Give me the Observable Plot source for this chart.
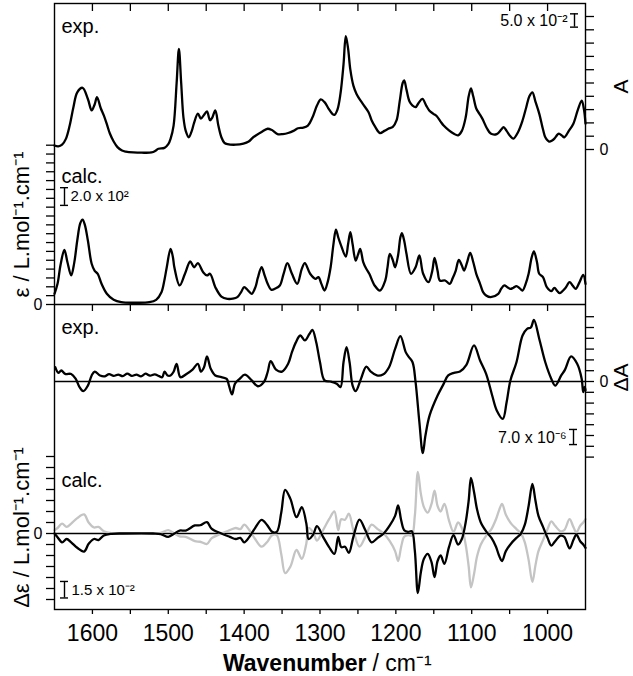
<!DOCTYPE html>
<html><head><meta charset="utf-8">
<script src="https://cdn.jsdelivr.net/npm/d3@7"></script>
<script src="https://cdn.jsdelivr.net/npm/@observablehq/plot@0.6"></script>
<style>
body{margin:0;background:#fff;}
</style></head><body><div id="chart"></div>
<script>
// ---------- DATA ----------
// Experimental IR absorbance (A)
const irExpWn = [1650,1645,1640,1635,1630,1625,1620,1613,1606,1601,1597,1594,1589,1585,1581,1577,1572,1567,1561,1556,1546,1535,1522,1517,1513,1505,1500,1497,1493,1489,1486,1483,1480,1477,1473,1469,1466,1461,1457,1453,1449,1445,1442,1438,1434,1430,1426,1422,1411,1401,1394,1388,1377,1369,1364,1356,1349,1342,1335,1329,1322,1316,1310,1304,1299,1294,1289,1284,1281,1277,1273,1269,1266,1263,1260,1256,1252,1244,1236,1232,1227,1221,1215,1210,1204,1199,1195,1191,1189,1186,1182,1178,1174,1170,1165,1160,1156,1151,1146,1141,1137,1130,1124,1118,1113,1108,1104,1101,1098,1094,1090,1086,1080,1075,1067,1061,1058,1054,1049,1045,1039,1033,1028,1024,1020,1016,1011,1006,1003,998,994,991,987,985,981,978,972,966,960,955,952,950];
const irExpA = [0.015,0.012,0.018,0.04,0.09,0.16,0.215,0.232,0.19,0.147,0.17,0.197,0.155,0.128,0.095,0.06,0.03,0.009,-0.004,-0.008,-0.011,-0.012,-0.011,-0.005,0.003,0.006,0.02,0.04,0.09,0.25,0.378,0.25,0.12,0.07,0.046,0.07,0.1,0.135,0.116,0.13,0.143,0.11,0.12,0.147,0.09,0.046,0.025,0.02,0.018,0.022,0.03,0.046,0.066,0.078,0.074,0.058,0.058,0.062,0.07,0.08,0.082,0.09,0.12,0.165,0.188,0.178,0.155,0.135,0.13,0.15,0.21,0.32,0.426,0.38,0.3,0.24,0.21,0.173,0.14,0.11,0.084,0.062,0.07,0.078,0.085,0.11,0.18,0.25,0.26,0.225,0.18,0.165,0.159,0.175,0.19,0.165,0.147,0.135,0.125,0.105,0.09,0.072,0.06,0.053,0.07,0.12,0.2,0.23,0.2,0.154,0.135,0.116,0.08,0.06,0.058,0.075,0.084,0.07,0.05,0.041,0.065,0.109,0.16,0.2,0.215,0.18,0.135,0.075,0.046,0.03,0.034,0.041,0.056,0.06,0.052,0.046,0.07,0.097,0.15,0.184,0.15,0.097];

// Calculated IR (epsilon, L/mol/cm)
const irCalcWn = [1650,1646,1642,1637,1633,1628,1624,1620,1616,1613,1610,1606,1601,1597,1593,1588,1581,1572,1562,1545,1525,1516,1509,1505,1502,1497,1494,1492,1485,1478,1471,1466,1461,1454,1449,1445,1438,1430,1422,1415,1409,1404,1400,1395,1390,1385,1382,1377,1373,1369,1364,1359,1353,1348,1343,1337,1330,1324,1320,1313,1306,1302,1298,1294,1290,1286,1282,1279,1276,1273,1266,1263,1260,1257,1253,1250,1247,1243,1239,1235,1228,1221,1214,1211,1208,1204,1201,1197,1194,1192,1189,1186,1180,1174,1169,1164,1157,1152,1149,1145,1142,1135,1129,1125,1121,1117,1113,1110,1106,1102,1098,1094,1089,1085,1081,1075,1065,1061,1057,1053,1049,1045,1041,1037,1033,1029,1025,1021,1018,1014,1011,1006,1001,995,991,987,984,977,971,967,963,958,953,950];
const irCalcEps = [121,234,450,618,480,328,470,723,920,960,900,723,460,380,347,234,121,53,26,20,26,53,139,280,421,629,540,421,215,347,486,421,467,365,328,347,196,90,64,66,83,140,196,160,121,200,300,421,330,234,166,180,215,347,467,347,234,403,467,347,290,309,230,158,250,421,700,847,760,686,542,680,817,680,497,560,629,480,403,347,215,158,271,420,573,500,421,560,760,806,720,573,347,421,554,347,252,380,527,380,271,271,234,300,384,505,440,384,480,584,480,347,234,140,102,83,121,180,215,195,177,190,207,185,158,230,347,530,599,480,347,309,196,151,188,150,128,180,252,215,177,250,335,234];

// Experimental VCD (Delta A, in units of 1e-6)
const vcdExpWn = [1649,1645,1641,1636,1628,1622,1617,1612,1606,1601,1597,1590,1584,1578,1572,1566,1560,1554,1548,1542,1536,1530,1524,1518,1512,1508,1505,1501,1497,1493,1489,1484,1476,1468,1461,1457,1453,1449,1444,1438,1430,1423,1420,1416,1412,1406,1399,1390,1382,1374,1369,1365,1358,1350,1342,1337,1332,1326,1320,1314,1310,1305,1300,1294,1286,1278,1273,1269,1265,1261,1257,1253,1246,1239,1233,1225,1217,1209,1201,1194,1187,1183,1178,1174,1169,1164.5,1161,1155.5,1145,1137,1131,1123.5,1115.5,1107,1097,1089,1081,1073,1067,1059,1054,1049,1041,1033,1027,1022,1018,1011,1003,995,990,982,977,969,961,955,953,951,950];
const vcdExpDA = [6.6,4.0,5.1,3.5,3.5,1.2,-2.6,-4.5,-1.9,2.8,4.6,2.8,2.4,3.4,2.6,3.2,2.5,3.6,2.6,3.2,2.4,3.6,2.7,3.3,2.5,2.0,4.6,2.8,2.8,4.5,8.2,2.0,3.5,5.5,8.2,4.6,6.5,11.6,5.9,2.8,2.0,1.2,-1.9,-6.0,-1.0,1.2,3.2,0.5,-2.2,-0.3,4.4,9.4,5.5,4.6,8.2,13.6,18,21.3,19,22,23.9,18.2,8.9,0.5,0,-1,-2.6,8.9,15.9,8.9,-1.9,-4.5,1.2,6.9,4.6,2.8,3.2,6.6,15.1,21,13.6,11.4,8.9,-0.3,-18.8,-33.2,-25,-15.7,-6.5,-1.1,2.8,4.0,4.6,7.7,16.7,9.7,3.5,-6.5,-13.4,-17.3,-9.6,0.5,8.9,21.3,24.4,25,28.5,19.8,8.9,1.2,-1.9,2.8,5.5,11.6,8.2,1.2,-4.9,-2.5,-4];

// Calculated VCD (Delta epsilon, in units of 1e-2), two enantiomers
const vcdCalcWn = [1650,1646,1640,1634,1628,1620,1611,1605,1598,1592,1585,1575,1560,1520,1510,1500,1492,1485,1477,1465,1458,1449,1443,1430,1419,1411,1405,1400,1393,1386,1377,1370,1363,1357,1351,1346,1339,1331,1324,1318,1315,1309,1304,1296,1288,1281,1276,1272,1267,1262,1256,1248,1240,1232,1224,1216,1208,1201,1197,1193,1189,1184,1179,1175,1171,1167,1163,1158,1153,1149,1145,1141,1136,1130,1124,1118,1113,1108,1104,1101,1097,1093,1088,1080,1074,1068,1064,1060,1055,1048,1041,1035,1030,1025,1020,1016,1012,1006,1000,995,990,983,978,971,966,962,957,953,950];
const vcdCalcBlack = [0,-0.33,-0.8,-0.5,-0.8,-1.3,-1.64,-0.94,-0.5,-0.6,-0.18,-0.03,0,0,-0.05,-0.3,0,0.27,0.27,0.73,0.75,1.03,0.45,0,-0.3,-0.5,-0.4,-0.8,-0.3,0.45,1.24,0.8,0.15,0.15,1.94,3.97,3.15,1.48,2.39,0.9,-0.5,-0.1,0.67,-0.3,-1.24,-1.85,-0.3,-1.24,-1.2,-1.76,-0.3,1.27,0.27,-0.8,-0.4,0,0.73,1.6,2.55,1.2,0.3,0.15,0.2,-1.55,-5.42,-3.5,-2.3,-1.85,-2.6,-3.97,-2.5,-2.0,-2.76,-1.24,-0.15,-1.0,-0.5,1.0,3.0,5.06,3.8,2.2,1.0,0.1,-0.4,-1.2,-2.0,-2.5,-1.6,-0.9,-0.4,0,0.8,2.5,4.5,3.0,1.6,0.6,-0.4,-1.1,-0.7,-0.2,-0.3,-1.35,-0.6,-0.1,-0.7,-1.0,-1.3];
const vcdCalcGray = [0.3,0.5,0.9,0.6,0.9,1.4,1.73,1.0,0.55,0.6,0.2,0.03,0,0,0.05,0.3,0,-0.27,-0.3,-0.7,-0.75,-0.95,-0.45,0,0.3,0.5,0.4,0.8,0.3,-0.45,-1.2,-0.8,-0.15,-0.15,-1.9,-3.6,-3.0,-1.5,-2.3,-0.9,0.5,0.1,-0.65,0.3,1.3,2.0,0.3,1.3,1.25,1.8,0.3,-1.2,-0.27,0.8,0.4,0,-0.7,-1.6,-2.5,-1.2,-0.3,-0.15,-0.2,1.6,5.6,3.6,2.4,1.9,2.7,3.9,2.5,2.0,2.7,1.2,0.15,1.0,0.5,-1.0,-3.0,-4.9,-3.7,-2.1,-1.0,-0.1,0.4,1.3,2.1,2.7,1.7,0.9,0.4,0,-0.8,-2.4,-4.4,-2.9,-1.6,-0.6,0.4,1.1,0.7,0.2,0.3,1.3,0.6,0.1,0.7,1.0,1.3];

// Tick values and labels
const xTickValues = d3.range(1600, 950, -50);
const xTickLabels = [1600,1500,1400,1300,1200,1100,1000];
const aTicks = d3.range(0, 0.5001, 0.05);
const epsTicks = d3.range(0, 1801, 100);
const dATicks = d3.range(-35, 31, 5);      // x1e-6
const deTicks = d3.range(-6, 8, 1);        // x1e-2
const panelLabels = ["exp.", "calc.", "exp.", "calc."];
const scaleBarLabels = ["5.0 x 10\u207B\u00B2", "2.0 x 10\u00B2", "7.0 x 10\u207B\u2076", "1.5 x 10\u207B\u00B2"];
const scaleBarValues = [0.05, 200, 7, 1.5];
const axisTitles = ["A", "\u0394A", "\u03B5 / L.mol\u207B\u00B9.cm\u207B\u00B9", "\u0394\u03B5 / L.mol\u207B\u00B9.cm\u207B\u00B9"];
const xTitle = ["Wavenumber", "/ cm\u207B\u00B9"];

// ---------- LAYOUT (stacked traces on a shared vertical scale) ----------
const W = 633, H = 676, mL = 54, mR = 48, mT = 3, mB = 67;
const vTop = H - mB - mT;                       // 606
const A = a => 460 + a * 266;                   // absorbance trace
const E = e => 305 + e * 0.0885;                // epsilon trace
const DA = d => 228 + d * 2.16;                 // Delta A trace (1e-6)
const DE = d => 76 + d * 11;                    // Delta epsilon trace (1e-2)
const px2wn = px => 1650 - (px - mL) * 700 / (W - mL - mR);
const py2v = py => (H - mB) - py;

const irExp = irExpWn.map((w, i) => ({w, v: irExpA[i]}));
const irCalc = irCalcWn.map((w, i) => ({w, v: irCalcEps[i]}));
const vcdExp = vcdExpWn.map((w, i) => ({w, v: vcdExpDA[i]}));
const vcdBlack = vcdCalcWn.map((w, i) => ({w, v: vcdCalcBlack[i]}));
const vcdGray = vcdCalcWn.map((w, i) => ({w, v: vcdCalcGray[i]}));

const font = "'Liberation Sans', Arial, Helvetica, sans-serif";
const lw = 2.3, axw = 1.4;
const innerTicks = xTickValues;

// scale bar helper
function ibeam(xpx, v0, v1) {
  const w = px2wn(xpx), dw = 4 * 700 / (W - mL - mR);
  return [
    Plot.ruleX([w], {y1: v0, y2: v1, stroke: "black", strokeWidth: 1.4}),
    Plot.ruleY([v0, v1], {x1: w + dw, x2: w - dw, stroke: "black", strokeWidth: 1.4})
  ];
}

const chart = Plot.plot({
  width: W, height: H,
  marginLeft: mL, marginRight: mR, marginTop: mT, marginBottom: mB,
  style: {fontFamily: font, fontSize: "16px", background: "white", overflow: "visible", color: "black"},
  x: {domain: [1650, 950]},
  y: {domain: [0, vTop]},
  marks: [
    // traces
    Plot.line(irExp, {x: "w", y: d => A(d.v), stroke: "black", strokeWidth: lw, curve: "catmull-rom"}),
    Plot.line(irCalc, {x: "w", y: d => E(d.v), stroke: "black", strokeWidth: lw, curve: "catmull-rom"}),
    Plot.ruleY([DA(0), DE(0)], {x1: 1650, x2: 950, stroke: "black", strokeWidth: 1.3}),
    Plot.line(vcdExp, {x: "w", y: d => DA(d.v), stroke: "black", strokeWidth: lw, curve: "catmull-rom"}),
    Plot.line(vcdGray, {x: "w", y: d => DE(d.v), stroke: "#c4c4c4", strokeWidth: lw, curve: "catmull-rom"}),
    Plot.line(vcdBlack, {x: "w", y: d => DE(d.v), stroke: "black", strokeWidth: lw, curve: "catmull-rom"}),
    // frame and separator
    Plot.frame({stroke: "black", strokeWidth: axw}),
    Plot.ruleY([E(0)], {x1: 1650, x2: 950, stroke: "black", strokeWidth: axw}),
    // inner x ticks (top edge and separator)
    Plot.ruleX(innerTicks, {y1: vTop, y2: vTop - 8, stroke: "black", strokeWidth: 1.3}),
    Plot.ruleX(innerTicks, {y1: E(0), y2: E(0) - 7, stroke: "black", strokeWidth: 1.3}),
    // bottom axis
    Plot.axisX(xTickValues, {anchor: "bottom", tickSize: 5, tickPadding: 10, fontSize: 23, strokeWidth: 1.3,
      tickFormat: d => xTickLabels.includes(d) ? String(d) : "", label: null}),
    // y axes
    Plot.axisY(aTicks.map(A), {anchor: "right", tickSize: 8, tickPadding: 6, fontSize: 16, strokeWidth: 1.3,
      tickFormat: (v, i) => i === 0 ? "0" : "", label: null}),
    Plot.axisY(epsTicks.map(E), {anchor: "left", tickSize: 8, tickPadding: 4, fontSize: 16, strokeWidth: 1.3,
      tickFormat: (v, i) => i === 0 ? "0" : "", label: null}),
    Plot.axisY(dATicks.map(DA), {anchor: "right", tickSize: 8, tickPadding: 6, fontSize: 16, strokeWidth: 1.3,
      tickFormat: v => Math.abs(v - DA(0)) < 1e-6 ? "0" : "", label: null}),
    Plot.axisY(deTicks.map(DE), {anchor: "left", tickSize: 8, tickPadding: 4, fontSize: 16, strokeWidth: 1.3,
      tickFormat: v => Math.abs(v - DE(0)) < 1e-6 ? "0" : "", label: null}),
    // panel labels
    Plot.text([panelLabels[0]], {x: px2wn(61), y: py2v(26.5), textAnchor: "start", fontSize: 20}),
    Plot.text([panelLabels[1]], {x: px2wn(61), y: py2v(176), textAnchor: "start", fontSize: 20}),
    Plot.text([panelLabels[2]], {x: px2wn(61), y: py2v(327), textAnchor: "start", fontSize: 20}),
    Plot.text([panelLabels[3]], {x: px2wn(61), y: py2v(480), textAnchor: "start", fontSize: 20}),
    // scale bars
    ...ibeam(574, A(0.46), A(0.46 + scaleBarValues[0])),
    Plot.text([scaleBarLabels[0]], {x: px2wn(567), y: A(0.485), textAnchor: "end", fontSize: 16}),
    ...ibeam(64, E(1120), E(1120 + scaleBarValues[1])),
    Plot.text([scaleBarLabels[1]], {x: px2wn(70), y: E(1220), textAnchor: "start", fontSize: 15}),
    ...ibeam(573, DA(-29.2), DA(-29.2 + scaleBarValues[2])),
    Plot.text([scaleBarLabels[2]], {x: px2wn(566), y: DA(-25.9), textAnchor: "end", fontSize: 16}),
    ...ibeam(64, DE(-5.86), DE(-5.86 + scaleBarValues[3])),
    Plot.text([scaleBarLabels[3]], {x: px2wn(71), y: DE(-5.18), textAnchor: "start", fontSize: 15}),
    // axis titles
    Plot.text([axisTitles[0]], {x: px2wn(621), y: py2v(86), rotate: -90, fontSize: 21}),
    Plot.text([axisTitles[1]], {x: px2wn(621), y: py2v(377), rotate: -90, fontSize: 21}),
    Plot.text([axisTitles[2]], {x: px2wn(21), y: py2v(224), rotate: -90, fontSize: 22}),
    Plot.text([axisTitles[3]], {x: px2wn(21), y: py2v(527), rotate: -90, fontSize: 22}),
    Plot.text([xTitle[0]], {x: px2wn(366), y: py2v(663), textAnchor: "end", fontSize: 23, fontWeight: "bold"}),
    Plot.text([xTitle[1]], {x: px2wn(372), y: py2v(663), textAnchor: "start", fontSize: 23})
  ]
});
document.getElementById("chart").append(chart);
</script></body></html>
